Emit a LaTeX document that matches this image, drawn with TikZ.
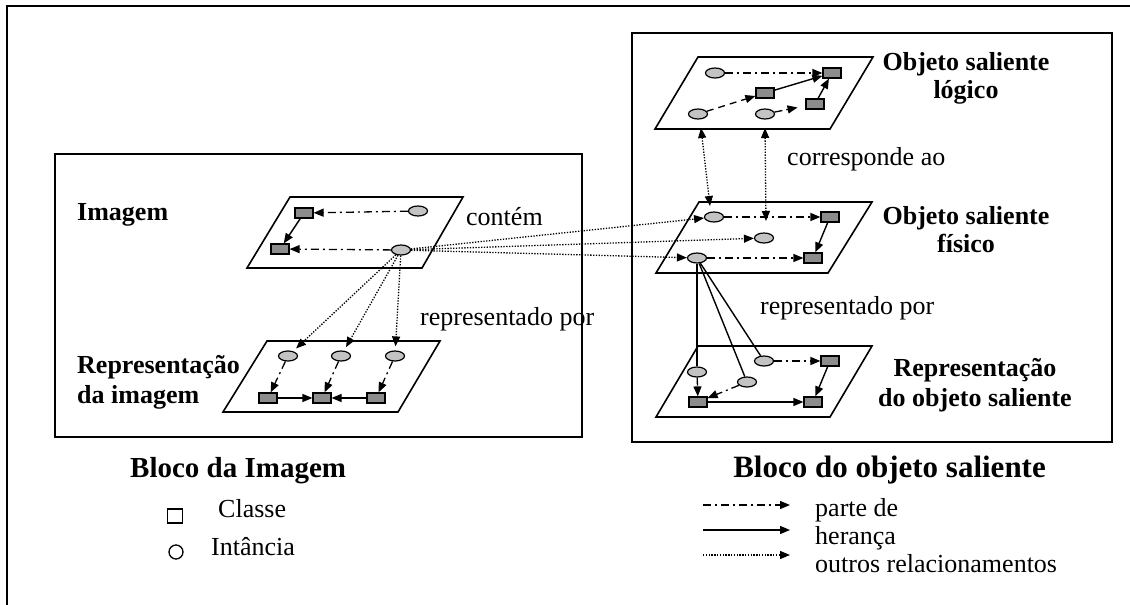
\documentclass[tikz,border=0pt]{standalone}
\usepackage{fontspec}
\setmainfont{Liberation Serif}
\usetikzlibrary{arrows.meta,shapes.geometric}
\definecolor{clsgray}{RGB}{140,140,140}
\definecolor{instgray}{RGB}{195,195,195}
\begin{document}
\begin{tikzpicture}[x=1pt,y=-1pt,
  cls/.style={draw,rectangle,fill=clsgray,line width=1.2pt,minimum width=18pt,minimum height=10pt,inner sep=0pt},
  inst/.style={draw,ellipse,fill=instgray,line width=1.2pt,minimum width=19pt,minimum height=10pt,inner sep=0pt},
  plane/.style={draw,line width=1.6pt},
  blockbox/.style={draw,line width=1.8pt},
  tip/.style={-{Triangle[length=10pt,width=8pt]}},
  partof/.style={tip,line width=1.3pt,dash pattern=on 8pt off 4pt on 2pt off 4pt},
  her/.style={tip,line width=1.4pt},
  oth/.style={tip,line width=1.3pt,dash pattern=on 1.3pt off 1.5pt},
  othb/.style={{Triangle[length=10pt,width=8pt]}-{Triangle[length=10pt,width=8pt]},line width=1.3pt,dash pattern=on 1.3pt off 1.5pt},
  dsh/.style={tip,line width=1.3pt,dash pattern=on 7pt off 5pt},
  plain/.style={line width=1.4pt},
  lbl/.style={font=\fontsize{26}{28}\selectfont\bfseries,inner sep=0pt},
  txt/.style={font=\fontsize{26}{28}\selectfont,inner sep=0pt},
  hd/.style={font=\fontsize{29}{32}\selectfont\bfseries,inner sep=0pt},
  hdr/.style={font=\fontsize{31}{34}\selectfont\bfseries,inner sep=0pt},
]
\useasboundingbox (0,0) rectangle (1130,605);
\fill[white] (0,0) rectangle (1130,605);
% outer frame
\draw[line width=2.5pt] (7,605) -- (7,6) -- (1130,6);
% block boxes
\draw[blockbox] (55,154) rectangle (582,437);
\draw[blockbox] (632,33) rectangle (1112,442);
% planes
\draw[plane] (290,197)--(463,197)--(422,268)--(247,268)--cycle;
\draw[plane] (267,341)--(440,341)--(398,412)--(223,412)--cycle;
\draw[plane] (698,57)--(873,57)--(830,129)--(655,129)--cycle;
\draw[plane] (699,202)--(872,202)--(828,273)--(656,273)--cycle;
\draw[plane] (698,346)--(872,346)--(830,417)--(656,417)--cycle;

% Imagem plane
\node[cls]  (c1) at (304,213) {};
\node[inst] (i1) at (418,211) {};
\node[cls]  (c2) at (280,249) {};
\node[inst] (i2) at (401,250) {};
\draw[partof] (i1) -- (c1);
\draw[her] (c1) -- (c2);
\draw[partof] (i2) -- (c2);

% Representacao da imagem
\node[inst] (ri1) at (288,356) {};
\node[inst] (ri2) at (341,356) {};
\node[inst] (ri3) at (395,356) {};
\node[cls] (rc1) at (268,398) {};
\node[cls] (rc2) at (322,398) {};
\node[cls] (rc3) at (376,398) {};
\draw[partof] (ri1) -- (rc1);
\draw[partof] (ri2) -- (rc2);
\draw[partof] (ri3) -- (rc3);
\draw[her] (rc1) -- (rc2);
\draw[her] (rc3) -- (rc2);
\draw[oth,shorten >=4pt] (i2) -- (ri1);
\draw[oth,shorten >=4pt] (i2) -- (ri2);
\draw[oth,shorten >=4pt] (i2) -- (ri3);

% Objeto saliente logico
\node[inst] (li1) at (715,73) {};
\node[cls]  (lc1) at (832,73) {};
\node[cls]  (lc2) at (765,93) {};
\node[cls]  (lc3) at (815,104) {};
\node[inst] (li2) at (698,114) {};
\node[inst] (li3) at (765,114) {};
\draw[partof] (li1) -- (lc1);
\draw[dsh] (li2) -- (lc2);
\draw[her] (lc2) -- (lc1);
\draw[partof,shorten >=8pt] (li3) -- (lc3);
\draw[her] (lc3) -- (lc1);

% Objeto saliente fisico
\node[inst] (fi1) at (714,217) {};
\node[cls]  (fc1) at (830,217) {};
\node[inst] (fi2) at (764,238) {};
\node[inst] (fi3) at (697,258) {};
\node[cls]  (fc2) at (813,258) {};
\draw[partof] (fi1) -- (fc1);
\draw[her] (fc1) -- (fc2);
\draw[partof] (fi3) -- (fc2);

% corresponde ao
\coordinate (lgA) at (701,128);
\coordinate (fsA) at (710,206);
\coordinate (lgB) at (765,128);
\coordinate (fsB) at (766,221);
\draw[othb] (lgA) -- (fsA);
\draw[othb] (lgB) -- (fsB);

% contem
\draw[oth] (i2) -- (fi1);
\draw[oth] (i2) -- (fi2);
\draw[oth] (i2) -- (fi3);

% Representacao do objeto saliente
\node[inst] (ro1) at (697,372) {};
\node[inst] (ro2) at (747,382) {};
\node[inst] (ro3) at (764,361) {};
\node[cls]  (rco1) at (830,361) {};
\node[cls]  (rco2) at (698,402) {};
\node[cls]  (rco3) at (813,402) {};
\draw[partof] (ro3) -- (rco1);
\draw[her] (rco1) -- (rco3);
\draw[partof] (ro1) -- (rco2);
\draw[partof] (ro2) -- (rco2);
\draw[her] (rco2) -- (rco3);
\draw[plain] (fi3) -- (ro1);
\draw[plain] (fi3) -- (ro2);
\draw[plain] (fi3) -- (ro3);

% labels
\node[lbl,anchor=base west] (tImg) at (77,220) {Imagem};
\node[lbl,anchor=base west] (tRi1) at (77,373) {Representação};
\node[lbl,anchor=base west] (tRi2) at (77,403) {da imagem};
\node[txt,anchor=base west] (tCont) at (466,225) {contém};
\node[txt,anchor=base west] (tRep1) at (420,325) {representado por};
\node[lbl,anchor=base] (tL1) at (966,70) {Objeto saliente};
\node[lbl,anchor=base] (tL2) at (966,98) {lógico};
\node[txt,anchor=base west] (tCorr) at (787,165) {corresponde ao};
\node[lbl,anchor=base] (tF1) at (966,224) {Objeto saliente};
\node[lbl,anchor=base] (tF2) at (966,252) {físico};
\node[txt,anchor=base west] (tRep2) at (760,314) {representado por};
\node[lbl,anchor=base] (tR1) at (975,376) {Representação};
\node[lbl,anchor=base] (tR2) at (975,406) {do objeto saliente};
\node[hd,anchor=base west] (tB1) at (130,477) {Bloco da Imagem};
\node[hdr,anchor=base east] (tB2) at (1046,477) {Bloco do objeto saliente};

% legend left
\node[draw,rectangle,line width=1.3pt,minimum width=15pt,minimum height=14pt,inner sep=0pt] (lsq) at (175,516) {};
\node[txt,anchor=base west] (tCl) at (218,517) {Classe};
\node[draw,circle,line width=1.3pt,minimum size=14pt,inner sep=0pt] (lci) at (176,552) {};
\node[txt,anchor=base west] (tIn) at (211,555) {Intância};

% legend right
\coordinate (la1) at (703,505); \coordinate (la2) at (790,505);
\coordinate (lb1) at (703,530); \coordinate (lb2) at (790,530);
\coordinate (lc1a) at (703,555); \coordinate (lc2a) at (790,555);
\draw[partof] (la1) -- (la2);
\draw[her] (lb1) -- (lb2);
\draw[oth] (lc1a) -- (lc2a);
\node[txt,anchor=base west] (tPa) at (815,516) {parte de};
\node[txt,anchor=base west] (tHe) at (815,544) {herança};
\node[txt,anchor=base west] (tOu) at (815,572) {outros relacionamentos};
\end{tikzpicture}
\end{document}
